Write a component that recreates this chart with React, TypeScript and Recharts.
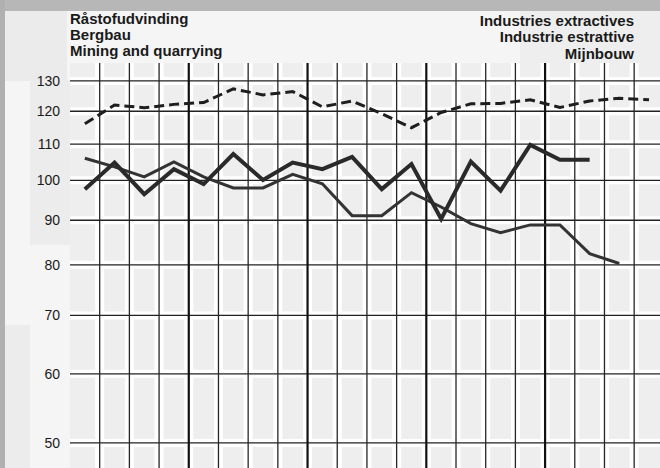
import { LineChart, Line, XAxis, YAxis, CartesianGrid, ReferenceLine } from 'recharts';

// quarter slots (4 per year, 5 years), points sit in the middle of each column
const slots = [0.5, 1.5, 2.5, 3.5, 4.5, 5.5, 6.5, 7.5, 8.5, 9.5, 10.5, 11.5, 12.5, 13.5, 14.5, 15.5, 16.5, 17.5, 18.5, 19.5];
const quarterLines = [1, 2, 3, 4, 5, 6, 7, 8, 9, 10, 11, 12, 13, 14, 15, 16, 17, 18, 19];
const yearLines = [4, 8, 12, 16];
const yTicks = [50, 60, 70, 80, 90, 100, 110, 120, 130];

const dashedSeries = [116.1, 122.0, 121.1, 122.2, 122.8, 127.3, 125.3, 126.4, 121.4, 123.3, 119.2, 114.9, 119.6, 122.4, 122.5, 123.7, 121.2, 123.3, 124.2, 123.7];
const thickSeries = [97.7, 104.8, 96.4, 103.0, 99.0, 107.2, 100.1, 104.8, 103.0, 106.4, 97.7, 104.4, 90.3, 105.1, 97.3, 109.8, 105.6, 105.6];
const thinSeries = [106.0, 103.6, 100.9, 105.0, 100.9, 98.0, 98.0, 101.6, 99.1, 91.1, 91.1, 96.8, 93.2, 89.2, 87.1, 88.9, 88.9, 82.4, 80.3];

const leftTitle = ['Råstofudvinding', 'Bergbau', 'Mining and quarrying'];
const rightTitle = ['Industries extractives', 'Industrie estrattive', 'Mijnbouw'];

const data = slots.map((x, i) => ({
  x,
  dashed: dashedSeries[i] ?? null,
  thick: thickSeries[i] ?? null,
  thin: thinSeries[i] ?? null,
}));

const font = '"Liberation Sans", Arial, sans-serif';

const block = (left: number, top: number, width: number, height: number, background: string) => (
  <div style={{ position: 'absolute', left, top, width, height, background }} />
);

export default function App() {
  return (
    <div style={{ position: 'absolute', left: 0, top: 0, width: 660, height: 468, background: '#f5f5f5', overflow: 'hidden', fontFamily: font }}>
      {/* scan background */}
      {block(0, 0, 660, 11, '#b7b7b7')}
      {block(0, 0, 5, 468, '#b0b0b0')}
      {block(5, 11, 62, 70, '#ebebeb')}
      {block(30, 80, 65, 165, '#ececec')}
      {block(5, 325, 25, 143, '#ececec')}
      {block(520, 11, 140, 52, '#eeeeee')}

      <div style={{ position: 'absolute', left: 0, top: 0 }}>
        <LineChart width={660} height={468} data={data} margin={{ top: 63, right: 0, bottom: 0, left: 0 }}>
          <CartesianGrid fill="#eeeeee" stroke="none" vertical={false} horizontal={false} />
          {/* white gaps around the grid lines */}
          {yTicks.map((v) => (
            <ReferenceLine key={'wh' + v} y={v} stroke="#ffffff" strokeWidth={8} />
          ))}
          {quarterLines.map((v) => (
            <ReferenceLine key={'wv' + v} x={v} stroke="#ffffff" strokeWidth={9} />
          ))}
          {/* the grid lines */}
          {yTicks.map((v) => (
            <ReferenceLine key={'bh' + v} y={v} stroke="#222" strokeWidth={1.3} />
          ))}
          {quarterLines.map((v) => (
            <ReferenceLine
              key={'bv' + v}
              x={v}
              stroke={yearLines.includes(v) ? '#111' : '#262626'}
              strokeWidth={yearLines.includes(v) ? 2.2 : 1.3}
            />
          ))}
          <XAxis
            type="number"
            dataKey="x"
            domain={[0, 19.87]}
            allowDataOverflow
            ticks={quarterLines}
            tick={false}
            tickLine={false}
            axisLine={false}
            height={0}
          />
          <YAxis
            scale="log"
            domain={[46.8, 136.3]}
            allowDataOverflow
            ticks={yTicks}
            width={70}
            tickSize={0}
            tickMargin={10}
            axisLine={false}
            tickLine={false}
            tick={{ fill: '#1a1a1a', fontSize: 14, fontFamily: font }}
          />
          <Line
            type="linear"
            dataKey="dashed"
            stroke="#1e1e1e"
            strokeWidth={3}
            strokeDasharray="10 5"
            dot={false}
            isAnimationActive={false}
          />
          <Line type="linear" dataKey="thin" stroke="#333" strokeWidth={3} dot={false} isAnimationActive={false} />
          <Line type="linear" dataKey="thick" stroke="#2a2a2a" strokeWidth={4} dot={false} isAnimationActive={false} />
        </LineChart>
      </div>

      <div style={{ position: 'absolute', left: 70, top: 11, fontSize: 15, lineHeight: '16px', fontWeight: 'bold', color: '#1a1a1a' }}>
        {leftTitle.map((t) => (
          <div key={t}>{t}</div>
        ))}
      </div>
      <div style={{ position: 'absolute', right: 26, top: 12.5, fontSize: 15, lineHeight: '16.5px', fontWeight: 'bold', color: '#1a1a1a', textAlign: 'right' }}>
        {rightTitle.map((t) => (
          <div key={t}>{t}</div>
        ))}
      </div>
    </div>
  );
}
